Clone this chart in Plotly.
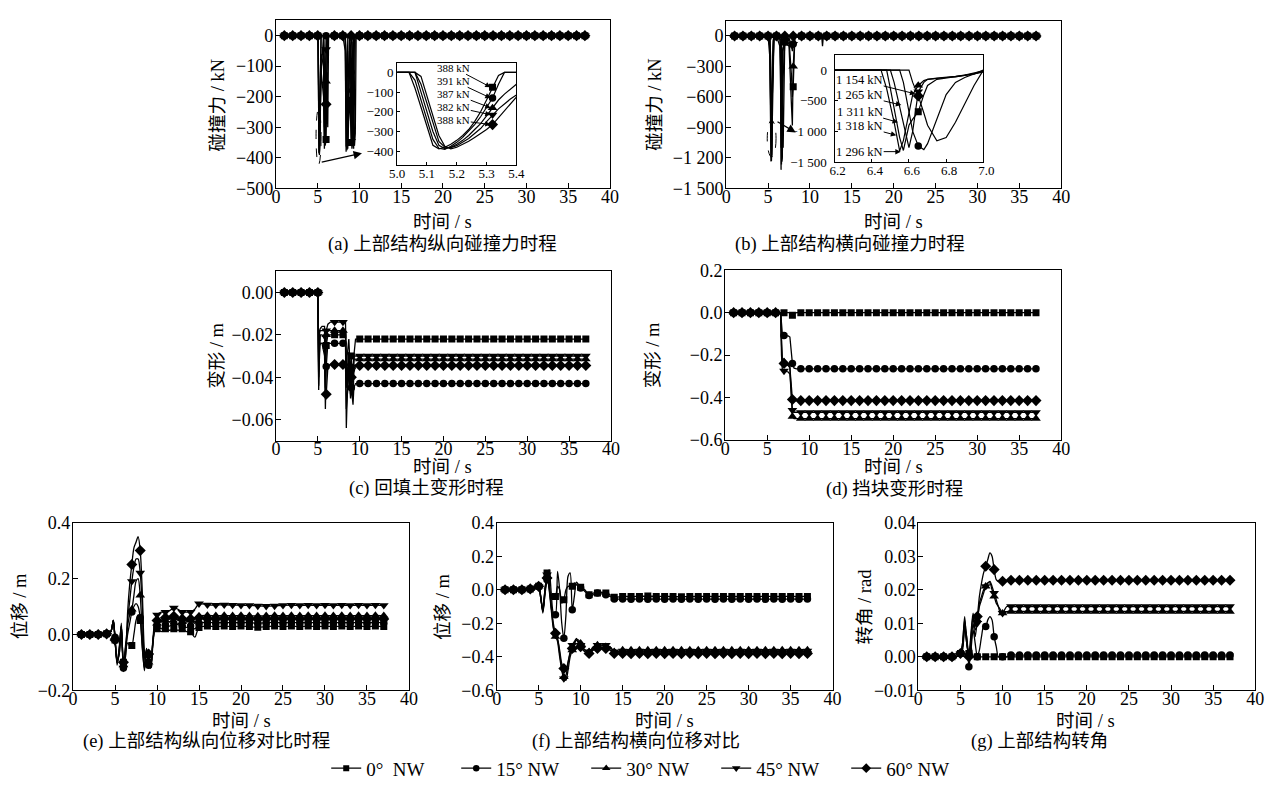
import plotly.graph_objects as go

W, H = 1284, 789
FONT = "Liberation Serif, Noto Sans CJK SC, serif"

# ---------------- data ----------------
SERIES = ["0°\u00a0\u00a0NW", "15° NW", "30° NW", "45° NW", "60° NW"]

XTICKS = [0, 5, 10, 15, 20, 25, 30, 35, 40]
XTICK_TEXT = ["0", "5", "10", "15", "20", "25", "30", "35", "40"]

T11 = [11, 12, 13, 14, 15, 16, 17, 18, 19, 20, 21, 22, 23, 24, 25, 26, 27, 28, 29, 30, 31, 32, 33, 34, 35, 36, 37]
T12 = [12, 13, 14, 15, 16, 17, 18, 19, 20, 21, 22, 23, 24, 25, 26, 27, 28, 29, 30, 31, 32, 33, 34, 35, 36, 37]
T16 = [16, 17, 18, 19, 20, 21, 22, 23, 24, 25, 26, 27, 28, 29, 30, 31, 32, 33, 34, 35, 36, 37]
ZERO27 = [0, 0, 0, 0, 0, 0, 0, 0, 0, 0, 0, 0, 0, 0, 0, 0, 0, 0, 0, 0, 0, 0, 0, 0, 0, 0, 0]
ZERO26 = [0, 0, 0, 0, 0, 0, 0, 0, 0, 0, 0, 0, 0, 0, 0, 0, 0, 0, 0, 0, 0, 0, 0, 0, 0, 0]

# (a) longitudinal collision force, kN
TA = [1, 2, 3, 4, 5, 5.05, 5.1, 5.15, 5.2, 5.25, 5.3, 5.35, 5.4, 5.7, 5.8, 5.9, 6, 6.1, 6.2, 6.3,
      7, 8, 8.3, 8.4, 8.5, 8.6, 8.8, 9, 9.1, 9.2, 9.3, 9.4, 9.5, 9.6, 10] + T11
A_0 = [0, 0, 0, 0, 0, -40, -280, -385, -345, -270, -140, 0, 0, 0, -200, -360, -340, -150, 0, 0,
       0, 0, 0, -360, -370, -200, 0, -350, -300, -100, 0, 0, 0, 0, 0] + ZERO27
A_15 = [0, 0, 0, 0, 0, -20, -240, -380, -391, -330, -180, -20, 0, 0, -300, -200, 0, 0, 0, 0,
        0, 0, -50, -380, -250, 0, 0, -120, -360, -330, -50, 0, 0, 0, 0] + ZERO27
A_30 = [0, 0, 0, 0, 0, 0, -200, -370, -387, -320, -220, -140, -60, -100, -330, -280, -150, -20, 0, 0,
        0, 0, 0, -200, -375, -320, -50, -180, -20, -250, -370, -200, 0, 0, 0] + ZERO27
A_45 = [0, 0, 0, 0, 0, 0, -160, -350, -382, -335, -250, -185, -115, -200, -370, -150, -45, 0, 0, 0,
        0, 0, 0, -100, -300, -360, -200, -345, -370, -340, -150, 0, 0, 0, 0] + ZERO27
A_60 = [0, 0, 0, 0, 0, 0, -120, -320, -380, -350, -290, -230, -125, 0, -100, -320, -225, -120, -300, 0,
        0, 0, 0, -60, -250, -370, -120, 0, 0, -150, -320, -360, -320, 0, 0] + ZERO27

# (a) inset, 5.0-5.4 s
TAI = [5.00, 5.02, 5.04, 5.06, 5.08, 5.10, 5.12, 5.14, 5.16, 5.18, 5.20, 5.22, 5.24, 5.26, 5.28,
       5.30, 5.32, 5.34, 5.36, 5.38, 5.40]
AI_0 = [0, 0, 0, -80, -180, -280, -370, -388, -380, -365, -345, -320, -290, -250, -200, -140, -75, -15, 0, 0, 0]
AI_15 = [0, 0, 0, -40, -140, -240, -340, -385, -391, -375, -355, -330, -300, -265, -225, -180, -130, -60, 0, 0, 0]
AI_30 = [0, 0, 0, 0, -100, -200, -300, -370, -387, -380, -365, -345, -320, -290, -260, -220, -180, -140, -110, -85, -60]
AI_45 = [0, 0, 0, 0, -60, -160, -260, -350, -380, -382, -372, -355, -335, -310, -285, -250, -215, -185, -160, -135, -115]
AI_60 = [0, 0, 0, 0, -20, -120, -220, -320, -375, -388, -380, -365, -350, -330, -310, -290, -265, -230, -195, -160, -125]
INSET_A_MARK_T = 5.32
INSET_A_LABELS = ["388 kN", "391 kN", "387 kN", "382 kN", "388 kN"]

# (b) transverse collision force, kN
TB = [1, 2, 3, 4, 5, 5.2, 5.3, 5.35, 5.4, 5.45, 5.5, 5.6, 5.7, 6, 6.4, 6.5, 6.55, 6.6, 6.65, 6.7, 6.8, 6.9,
      7, 7.2, 7.5, 7.8, 7.9, 8, 8.1, 8.2, 8.3, 9, 10, 11, 11.4, 11.5, 11.6] + T12
B_0 = [0, 0, 0, 0, 0, 0, -600, -1150, -1200, -900, -400, -100, 0, 0, 0, -300, -1100, -900, -680, -250, -130, -90,
       -60, -50, -40, -400, -600, -500, -200, 0, 0, 0, 0, 0, 0, 0, 0] + ZERO26
B_15 = [0, 0, 0, 0, 0, -200, -900, -1235, -1100, -700, -300, -50, 0, 0, 0, 0, 0, -700, -1237, -1200, -400, -120,
        -60, -30, -20, -100, -150, -80, -30, 0, 0, 0, 0, 0, 0, 0, 0] + ZERO26
B_30 = [0, 0, 0, 0, 0, 0, -300, -800, -1180, -1000, -500, -100, 0, 0, -100, -550, -1318, -700, -250, -150, -120, -90,
        -60, -80, -100, -700, -880, -300, -50, 0, 0, 0, 0, 0, 0, 0, 0] + ZERO26
B_45 = [0, 0, 0, 0, 0, -100, -500, -1000, -1230, -1100, -600, -200, 0, 0, 0, -100, -600, -1265, -350, -150, -120, -80,
        -50, -60, -80, -120, -100, -80, -60, 0, 0, 0, 0, 0, 0, 0, 0] + ZERO26
B_60 = [0, 0, 0, 0, 0, 0, -200, -700, -1000, -1180, -850, -300, 0, 0, 0, 0, 0, 0, -420, -900, -1100, -550,
        0, 0, 0, 0, 0, 0, 0, 0, 0, 0, 0, 0, 0, -100, 0] + ZERO26

# (b) inset, 6.2-7.0 s
TBI = [6.2, 6.45, 6.48, 6.5, 6.52, 6.55, 6.57, 6.6, 6.62, 6.65, 6.68, 6.7, 6.75, 6.8, 6.85, 6.9, 6.95, 7.0]
BI_0 = [0, 0, 0, -300, -600, -1100, -1311, -900, -800, -680, -400, -250, -150, -130, -110, -90, -60, -30]
BI_15 = [0, 0, 0, 0, 0, 0, -200, -700, -1000, -1237, -1296, -1200, -800, -400, -200, -120, -60, 0]
BI_30 = [0, 0, -300, -550, -850, -1318, -1150, -700, -400, -250, -170, -150, -130, -120, -110, -90, -60, -20]
BI_45 = [0, 0, 0, 0, -200, -600, -900, -1265, -1000, -350, -200, -150, -130, -120, -100, -80, -50, -10]
BI_60 = [0, 0, 0, 0, 0, 0, 0, 0, -200, -420, -700, -900, -1154, -1100, -850, -550, -250, 0]
INSET_B_MARK_T = 6.65
INSET_B_LABELS = ["1 154 kN", "1 265 kN", "1 311 kN", "1 318 kN", "1 296 kN"]

# (c) backfill deformation, m
TC = [1, 2, 3, 4, 5, 5.1, 5.2, 5.3, 5.5, 5.8, 5.9, 6, 6.2, 6.5, 7, 7.5, 8, 8.3, 8.4, 8.5, 8.7, 8.9, 9, 9.2, 9.3, 9.5, 10] + T11
C_0 = [0, 0, 0, 0, 0, -0.040, -0.022, -0.020, -0.020, -0.022, -0.045, -0.025, -0.020, -0.020, -0.020, -0.020, -0.020,
       -0.020, -0.045, -0.030, -0.022, -0.040, -0.030, -0.045, -0.030, -0.022, -0.022] + [
    -0.022, -0.022, -0.022, -0.022, -0.022, -0.022, -0.022, -0.022, -0.022, -0.022, -0.022, -0.022, -0.022, -0.022,
    -0.022, -0.022, -0.022, -0.022, -0.022, -0.022, -0.022, -0.022, -0.022, -0.022, -0.022, -0.022, -0.022]
C_15 = [0, 0, 0, 0, 0, -0.046, -0.025, -0.024, -0.024, -0.024, -0.055, -0.035, -0.024, -0.024, -0.024, -0.024, -0.024,
        -0.024, -0.064, -0.050, -0.035, -0.050, -0.045, -0.053, -0.045, -0.043, -0.043] + [
    -0.043, -0.043, -0.043, -0.043, -0.043, -0.043, -0.043, -0.043, -0.043, -0.043, -0.043, -0.043, -0.043, -0.043,
    -0.043, -0.043, -0.043, -0.043, -0.043, -0.043, -0.043, -0.043, -0.043, -0.043, -0.043, -0.043, -0.043]
C_30 = [0, 0, 0, 0, 0, -0.035, -0.019, -0.018, -0.018, -0.018, -0.040, -0.020, -0.018, -0.018, -0.018, -0.018, -0.018,
        -0.019, -0.040, -0.045, -0.030, -0.048, -0.035, -0.040, -0.032, -0.0315, -0.0315] + [
    -0.0315, -0.0315, -0.0315, -0.0315, -0.0315, -0.0315, -0.0315, -0.0315, -0.0315, -0.0315, -0.0315, -0.0315, -0.0315,
    -0.0315, -0.0315, -0.0315, -0.0315, -0.0315, -0.0315, -0.0315, -0.0315, -0.0315, -0.0315, -0.0315, -0.0315, -0.0315,
    -0.0315]
C_45 = [0, 0, 0, 0, 0, -0.030, -0.018, -0.017, -0.016, -0.016, -0.030, -0.018, -0.015, -0.014, -0.014, -0.014, -0.014,
        -0.014, -0.035, -0.040, -0.028, -0.045, -0.035, -0.038, -0.030, -0.030, -0.030] + [
    -0.030, -0.030, -0.030, -0.030, -0.030, -0.030, -0.030, -0.030, -0.030, -0.030, -0.030, -0.030, -0.030, -0.030,
    -0.030, -0.030, -0.030, -0.030, -0.030, -0.030, -0.030, -0.030, -0.030, -0.030, -0.030, -0.030, -0.030]
C_60 = [0, 0, 0, 0, 0, -0.044, -0.025, -0.024, -0.024, -0.030, -0.050, -0.048, -0.035, -0.034, -0.034, -0.034, -0.034,
        -0.034, -0.055, -0.050, -0.038, -0.046, -0.040, -0.050, -0.038, -0.0345, -0.0345] + [
    -0.0345, -0.0345, -0.0345, -0.0345, -0.0345, -0.0345, -0.0345, -0.0345, -0.0345, -0.0345, -0.0345, -0.0345, -0.0345,
    -0.0345, -0.0345, -0.0345, -0.0345, -0.0345, -0.0345, -0.0345, -0.0345, -0.0345, -0.0345, -0.0345, -0.0345, -0.0345,
    -0.0345]

# (d) block deformation, m
TD = [1, 2, 3, 4, 5, 5.5, 6, 6.6, 6.7, 6.8, 7, 7.5, 7.7, 7.9, 8, 8.2, 8.5, 9, 10] + T11
D_0 = [0, 0, 0, 0, 0, 0, 0, 0, 0, 0, 0, 0, 0, -0.010, -0.012, -0.005, 0, 0, 0] + ZERO27
D_15 = [0, 0, 0, 0, 0, 0, 0, 0, -0.05, -0.10, -0.108, -0.11, -0.115, -0.20, -0.24, -0.262, -0.265, -0.265, -0.265] + [
    -0.265, -0.265, -0.265, -0.265, -0.265, -0.265, -0.265, -0.265, -0.265, -0.265, -0.265, -0.265, -0.265, -0.265,
    -0.265, -0.265, -0.265, -0.265, -0.265, -0.265, -0.265, -0.265, -0.265, -0.265, -0.265, -0.265, -0.265]
D_30 = [0, 0, 0, 0, 0, 0, 0, 0, -0.15, -0.225, -0.232, -0.24, -0.26, -0.45, -0.49, -0.50, -0.50, -0.50, -0.50] + [
    -0.50, -0.50, -0.50, -0.50, -0.50, -0.50, -0.50, -0.50, -0.50, -0.50, -0.50, -0.50, -0.50, -0.50,
    -0.50, -0.50, -0.50, -0.50, -0.50, -0.50, -0.50, -0.50, -0.50, -0.50, -0.50, -0.50, -0.50]
D_45 = [0, 0, 0, 0, 0, 0, 0, 0, -0.20, -0.27, -0.275, -0.28, -0.29, -0.42, -0.46, -0.47, -0.47, -0.47, -0.47] + [
    -0.47, -0.47, -0.47, -0.47, -0.47, -0.47, -0.47, -0.47, -0.47, -0.47, -0.47, -0.47, -0.47, -0.47,
    -0.47, -0.47, -0.47, -0.47, -0.47, -0.47, -0.47, -0.47, -0.47, -0.47, -0.47, -0.47, -0.47]
D_60 = [0, 0, 0, 0, 0, -0.01, 0, 0, -0.18, -0.235, -0.24, -0.25, -0.26, -0.38, -0.41, -0.415, -0.415, -0.415, -0.415] + [
    -0.415, -0.415, -0.415, -0.415, -0.415, -0.415, -0.415, -0.415, -0.415, -0.415, -0.415, -0.415, -0.415, -0.415,
    -0.415, -0.415, -0.415, -0.415, -0.415, -0.415, -0.415, -0.415, -0.415, -0.415, -0.415, -0.415, -0.415]

# (e) longitudinal displacement, m
TE = [1, 2, 3, 4, 4.5, 4.8, 5, 5.25, 5.5, 5.75, 6, 6.25, 6.5, 6.75, 7, 7.25, 7.5, 7.75, 8, 8.25, 8.5, 8.75, 9,
      9.25, 9.5, 9.75, 10, 10.5, 11, 11.5, 12, 12.5, 13, 13.5, 14, 14.5, 15] + T16
E_0 = [0, 0, 0, 0.002, 0.01, 0.05, -0.02, -0.10, -0.05, 0.03, -0.10, -0.06, -0.03, -0.04, -0.04, 0.0, 0.05, 0.07,
       0.05, -0.05, -0.12, -0.05, -0.10, -0.11, -0.03, 0.02, 0.02, 0.01, 0.02, 0.015, 0.02, 0.015, 0.02, 0.01, 0.01,
       -0.01, 0.025] + [0.03, 0.028, 0.03, 0.028, 0.03, 0.028, 0.026, 0.028, 0.03, 0.028, 0.03, 0.028, 0.03, 0.028,
                        0.03, 0.028, 0.03, 0.028, 0.03, 0.028, 0.03, 0.028]
E_15 = [0, 0, 0, 0.002, 0.01, 0.045, -0.01, -0.11, -0.06, 0.04, -0.12, -0.05, 0.0, 0.04, 0.08, 0.10, 0.11, 0.10,
        0.06, -0.04, -0.13, -0.06, -0.11, -0.12, -0.04, 0.02, 0.03, 0.02, 0.035, 0.03, 0.04, 0.035, 0.03, 0.025, 0.03,
        0.02, 0.04] + [0.043, 0.042, 0.043, 0.042, 0.043, 0.042, 0.04, 0.042, 0.043, 0.042, 0.043, 0.042, 0.043, 0.042,
                       0.043, 0.042, 0.043, 0.042, 0.043, 0.042, 0.043, 0.042]
E_30 = [0, 0, 0, 0.002, 0.01, 0.05, -0.01, -0.10, -0.05, 0.03, -0.11, -0.04, 0.03, 0.07, 0.09, 0.14, 0.19, 0.20,
        0.14, 0.0, -0.12, -0.05, -0.10, -0.11, -0.03, 0.03, 0.04, 0.045, 0.05, 0.045, 0.06, 0.05, 0.045, 0.045, 0.05,
        0.04, 0.065] + [0.068, 0.067, 0.068, 0.067, 0.068, 0.067, 0.066, 0.067, 0.068, 0.067, 0.068, 0.067, 0.068,
                        0.067, 0.068, 0.067, 0.068, 0.067, 0.068, 0.067, 0.068, 0.067]
E_45 = [0, 0, 0, 0.002, 0.01, 0.05, -0.02, -0.10, -0.07, 0.02, -0.12, -0.07, 0.05, 0.12, 0.19, 0.24, 0.27, 0.27,
        0.22, 0.10, -0.08, -0.10, -0.08, -0.12, -0.02, 0.05, 0.07, 0.08, 0.08, 0.085, 0.095, 0.09, 0.08, 0.08, 0.08,
        0.09, 0.11] + [0.106, 0.105, 0.106, 0.105, 0.104, 0.104, 0.102, 0.101, 0.102, 0.104, 0.105, 0.104, 0.105,
                       0.104, 0.105, 0.104, 0.105, 0.104, 0.105, 0.104, 0.105, 0.104]
E_60 = [0, 0, 0, 0.002, 0.01, 0.05, -0.02, -0.09, -0.07, 0.03, -0.10, -0.08, 0.08, 0.18, 0.25, 0.31, 0.33, 0.35,
        0.30, 0.15, -0.06, -0.11, -0.07, -0.12, -0.03, 0.03, 0.05, 0.05, 0.06, 0.055, 0.065, 0.06, 0.055, 0.05, 0.055,
        0.045, 0.06] + [0.056, 0.055, 0.056, 0.055, 0.056, 0.055, 0.054, 0.055, 0.056, 0.055, 0.056, 0.055, 0.056,
                        0.055, 0.056, 0.055, 0.056, 0.055, 0.056, 0.055, 0.056, 0.055]

# (f) transverse displacement, m
TF = [1, 2, 3, 4, 4.5, 5, 5.25, 5.5, 5.75, 6, 6.25, 6.5, 6.75, 7, 7.25, 7.5, 7.75, 8, 8.25, 8.5, 8.75, 9, 9.25,
      9.5, 9.75, 10, 10.5, 11, 11.5, 12, 12.5, 13, 13.5, 14, 15] + T16
F_0 = [0, 0, 0, 0.005, 0.01, 0.02, -0.05, -0.13, -0.02, 0.10, 0.05, -0.05, -0.04, -0.04, 0.02, 0.0, -0.08, -0.06,
       0.0, 0.02, 0.02, 0.02, 0.04, 0.03, 0.02, 0.015, -0.01, -0.03, -0.02, -0.02, -0.015, -0.02, -0.03, -0.045,
       -0.04] + [-0.04, -0.04, -0.038, -0.04, -0.04, -0.04, -0.042, -0.04, -0.04, -0.04, -0.04, -0.04, -0.04, -0.04,
                 -0.04, -0.04, -0.04, -0.04, -0.04, -0.04, -0.04, -0.04]
F_15 = [0, 0, 0, 0.005, 0.01, 0.02, -0.04, -0.14, -0.03, 0.06, 0.12, -0.02, -0.14, -0.15, 0.11, 0.0, -0.20, -0.29,
        -0.15, 0.08, 0.10, -0.12, -0.04, 0.045, 0.03, 0.01, 0.0, -0.035, -0.03, -0.02, -0.025, -0.03, -0.04, -0.055,
        -0.055] + [-0.057, -0.055, -0.057, -0.055, -0.057, -0.055, -0.057, -0.055, -0.057, -0.055, -0.057, -0.055,
                   -0.057, -0.055, -0.057, -0.055, -0.057, -0.055, -0.057, -0.055, -0.057, -0.055]
F_30 = [0, 0, 0, 0.005, 0.01, 0.02, -0.04, -0.12, 0.0, 0.08, 0.02, -0.10, -0.22, -0.28, -0.30, -0.38, -0.47, -0.52,
        -0.54, -0.48, -0.40, -0.36, -0.32, -0.30, -0.30, -0.32, -0.36, -0.37, -0.35, -0.33, -0.33, -0.34, -0.34,
        -0.37, -0.36] + [-0.36, -0.36, -0.36, -0.36, -0.36, -0.36, -0.36, -0.36, -0.36, -0.36, -0.36, -0.36, -0.36,
                         -0.36, -0.36, -0.36, -0.36, -0.36, -0.36, -0.36, -0.36, -0.36]
F_45 = [0, 0, 0, 0.005, 0.01, 0.02, -0.05, -0.13, 0.0, 0.09, 0.0, -0.12, -0.23, -0.27, -0.31, -0.40, -0.48, -0.53,
        -0.51, -0.44, -0.37, -0.33, -0.31, -0.29, -0.31, -0.33, -0.36, -0.37, -0.34, -0.33, -0.33, -0.33, -0.34,
        -0.37, -0.365] + [-0.367, -0.365, -0.367, -0.365, -0.367, -0.365, -0.367, -0.365, -0.367, -0.365, -0.367,
                          -0.365, -0.367, -0.365, -0.367, -0.365, -0.367, -0.365, -0.367, -0.365, -0.367, -0.365]
F_60 = [0, 0, 0, 0.005, 0.01, 0.02, -0.05, -0.12, -0.01, 0.07, 0.01, -0.10, -0.20, -0.26, -0.29, -0.36, -0.44,
        -0.47, -0.48, -0.43, -0.38, -0.35, -0.32, -0.30, -0.32, -0.34, -0.37, -0.38, -0.36, -0.35, -0.345, -0.35,
        -0.36, -0.38, -0.38] + [-0.382, -0.38, -0.382, -0.38, -0.382, -0.38, -0.382, -0.38, -0.382, -0.38, -0.382,
                                -0.38, -0.382, -0.38, -0.382, -0.38, -0.382, -0.38, -0.382, -0.38, -0.382, -0.38]

# (g) superstructure rotation, rad
TG = [1, 2, 3, 4, 4.5, 5, 5.25, 5.5, 5.75, 6, 6.25, 6.5, 6.75, 7, 7.25, 7.5, 7.75, 8, 8.25, 8.5, 8.75, 9, 9.25,
      9.5, 9.75, 10, 10.5] + T11
G_0 = [0, 0, 0, 0, 0, 0.001, 0.004, 0.012, 0.004, 0.001, 0.003, 0.0, 0.0, 0.0, 0.0, 0.0, 0.0, 0.0, 0.0, 0.0, 0.0,
       0.0, 0.0, 0.0, 0.0, 0.0, 0.0] + ZERO27
G_15 = [0, 0, 0, 0, 0, 0.001, 0.002, 0.008, 0.006, -0.003, 0.002, 0.008, 0.004, 0.0, 0.002, 0.006, 0.009, 0.009,
        0.011, 0.012, 0.011, 0.006, 0.003, 0.0, 0.0, 0.0, 0.0] + [
    0.0005, 0.0005, 0.0005, 0.0005, 0.0005, 0.0005, 0.0005, 0.0005, 0.0005, 0.0005, 0.0005, 0.0005, 0.0005, 0.0005,
    0.0005, 0.0005, 0.0005, 0.0005, 0.0005, 0.0005, 0.0005, 0.0005, 0.0005, 0.0005, 0.0005, 0.0005, 0.0005]
G_30 = [0, 0, 0, 0, 0, 0.001, 0.004, 0.011, 0.005, 0.001, 0.004, 0.010, 0.006, 0.011, 0.015, 0.017, 0.019, 0.021,
        0.022, 0.022, 0.020, 0.018, 0.016, 0.015, 0.014, 0.013, 0.0135] + [
    0.0135, 0.0135, 0.0135, 0.0135, 0.0135, 0.0135, 0.0135, 0.0135, 0.0135, 0.0135, 0.0135, 0.0135, 0.0135, 0.0135,
    0.0135, 0.0135, 0.0135, 0.0135, 0.0135, 0.0135, 0.0135, 0.0135, 0.0135, 0.0135, 0.0135, 0.0135, 0.0135]
G_45 = [0, 0, 0, 0, 0, 0.001, 0.003, 0.010, 0.004, 0.0, 0.006, 0.012, 0.008, 0.010, 0.016, 0.018, 0.020, 0.021,
        0.022, 0.0225, 0.021, 0.019, 0.017, 0.015, 0.013, 0.013, 0.015] + [
    0.015, 0.015, 0.015, 0.015, 0.015, 0.015, 0.015, 0.015, 0.015, 0.015, 0.015, 0.015, 0.015, 0.015,
    0.015, 0.015, 0.015, 0.015, 0.015, 0.015, 0.015, 0.015, 0.015, 0.015, 0.015, 0.015, 0.015]
G_60 = [0, 0, 0, 0, 0, 0.001, 0.003, 0.009, 0.004, 0.0, 0.007, 0.013, 0.009, 0.012, 0.018, 0.022, 0.025, 0.027,
        0.029, 0.031, 0.030, 0.026, 0.023, 0.0225, 0.0225, 0.0225, 0.0225] + [
    0.0228, 0.0228, 0.0228, 0.0228, 0.0228, 0.0228, 0.0228, 0.0228, 0.0228, 0.0228, 0.0228, 0.0228, 0.0228, 0.0228,
    0.0228, 0.0228, 0.0228, 0.0228, 0.0228, 0.0228, 0.0228, 0.0228, 0.0228, 0.0228, 0.0228, 0.0228, 0.0228]

# ---------------- style ----------------
SYMBOLS = ["square", "circle", "triangle-up", "triangle-down", "diamond"]
MSIZE = [7, 7.5, 8.5, 8.5, 8.5]
TICK_FS = 18
TITLE_FS = 18.5
INSET_FS = 13

fig = go.Figure()


def xdom(p0, p1):
    return [p0 / W, p1 / W]


def ydom(top, bottom):
    return [1 - bottom / H, 1 - top / H]


def add_panel(t, ys, n, shape="linear", mark=None, lw=1.3):
    for k, y in enumerate(ys):
        assert len(t) == len(y), (n, k, len(t), len(y))
        if mark is None:
            sizes = [MSIZE[k] if abs(v - round(v)) < 1e-9 else 0 for v in t]
        else:
            sizes = [MSIZE[k] if abs(v - mark) < 1e-9 else 0 for v in t]
        sfx = "" if n == 1 else str(n)
        fig.add_trace(go.Scatter(
            x=t, y=y, xaxis="x" + sfx, yaxis="y" + sfx, mode="lines+markers",
            line=dict(color="black", width=lw, shape=shape, smoothing=0.8),
            marker=dict(symbol=SYMBOLS[k], size=sizes, color="black", opacity=1, line=dict(width=0)),
            showlegend=False, hoverinfo="skip"))


add_panel(TA, [A_0, A_15, A_30, A_45, A_60], 1)
add_panel(TB, [B_0, B_15, B_30, B_45, B_60], 2)
add_panel(TC, [C_0, C_15, C_30, C_45, C_60], 3)
add_panel(TD, [D_0, D_15, D_30, D_45, D_60], 4)
add_panel(TE, [E_0, E_15, E_30, E_45, E_60], 5, shape="spline")
add_panel(TF, [F_0, F_15, F_30, F_45, F_60], 6, shape="spline")
add_panel(TG, [G_0, G_15, G_30, G_45, G_60], 7, shape="spline")
add_panel(TAI, [AI_0, AI_15, AI_30, AI_45, AI_60], 8, mark=INSET_A_MARK_T, lw=1.2)
add_panel(TBI, [BI_0, BI_15, BI_30, BI_45, BI_60], 9, mark=INSET_B_MARK_T, lw=1.2)

# legend entries
for k, name in enumerate(SERIES):
    fig.add_trace(go.Scatter(
        x=[None], y=[None], mode="lines+markers", name=name,
        line=dict(color="black", width=1.3),
        marker=dict(symbol=SYMBOLS[k], size=MSIZE[k] - 1, color="black", opacity=1),
        showlegend=True))


def axis(domain, rng, tickvals, ticktext, anchor, fs=TICK_FS, ticklen=5, standoff=0, shift=0):
    return dict(domain=domain, range=rng, tickvals=tickvals, ticktext=ticktext, anchor=anchor,
                showline=True, linecolor="black", linewidth=1.2, mirror=True,
                ticks="inside", ticklen=ticklen, tickwidth=1.1, tickcolor="black",
                showgrid=False, zeroline=False, fixedrange=True, ticklabelstandoff=standoff,
                ticklabelshift=shift,
                tickfont=dict(family=FONT, size=fs, color="black"))


M = "\u2212"
panels = {
    1: (xdom(272, 611), ydom(10, 183), [-500, 52], [0, -100, -200, -300, -400, -500],
        ["0", M + "100", M + "200", M + "300", M + "400", M + "500"]),
    2: (xdom(729, 1069), ydom(11, 183), [-1500, 150], [0, -300, -600, -900, -1200, -1500],
        ["0", M + "300", M + "600", M + "900", M + "1 200", M + "1 500"]),
    3: (xdom(272, 612), ydom(268, 442), [-0.07, 0.01], [0, -0.02, -0.04, -0.06],
        ["0.00", M + "0.02", M + "0.04", M + "0.06"]),
    4: (xdom(728, 1069), ydom(267, 441), [-0.6, 0.2], [0.2, 0, -0.2, -0.4, -0.6],
        ["0.2", "0.0", M + "0.2", M + "0.4", M + "0.6"]),
    5: (xdom(66, 407), ydom(526, 698), [-0.2, 0.4], [0.4, 0.2, 0, -0.2],
        ["0.4", "0.2", "0.0", M + "0.2"]),
    6: (xdom(496, 837), ydom(526, 698), [-0.6, 0.4], [0.4, 0.2, 0, -0.2, -0.4, -0.6],
        ["0.4", "0.2", "0.0", M + "0.2", M + "0.4", M + "0.6"]),
    7: (xdom(924, 1266), ydom(526, 698), [-0.01, 0.04], [0.04, 0.03, 0.02, 0.01, 0, -0.01],
        ["0.04", "0.03", "0.02", "0.01", "0.00", M + "0.01"]),
}
lay = {}
for n, (xd, yd, yr, ytv, ytt) in panels.items():
    sfx = "" if n == 1 else str(n)
    lay["xaxis" + sfx] = axis(xd, [0, 40], XTICKS, XTICK_TEXT, "y" + sfx, standoff=-8)
    lay["yaxis" + sfx] = axis(yd, yr, ytv, ytt, "x" + sfx, standoff=-2)

lay["xaxis8"] = axis(xdom(395, 516), [5.0, 5.4], [5.0, 5.1, 5.2, 5.3, 5.4],
                     ["5.0", "5.1", "5.2", "5.3", "5.4"], "y8", fs=INSET_FS, ticklen=3, standoff=-4)
lay["yaxis8"] = axis(ydom(54, 159), [-470, 50], [0, -100, -200, -300, -400],
                     ["0", M + "100", M + "200", M + "300", M + "400"], "x8", fs=INSET_FS, ticklen=3)
lay["xaxis9"] = axis(xdom(839, 990), [6.2, 7.0], [6.2, 6.4, 6.6, 6.8, 7.0],
                     ["6.2", "6.4", "6.6", "6.8", "7.0"], "y9", fs=INSET_FS, ticklen=3, standoff=-4, shift=3)
lay["yaxis9"] = axis(ydom(46, 156), [-1500, 250], [0, -500, -1000, -1500],
                     ["0", M + "500", M + "1 000", M + "1 500"], "x9", fs=INSET_FS, ticklen=3, standoff=4)

annotations = []


def txt(x, y, s, size=TITLE_FS, angle=0):
    annotations.append(dict(x=x / W, y=1 - y / H, xref="paper", yref="paper", text=s, showarrow=False,
                            textangle=angle, xanchor="center", yanchor="middle", borderpad=0,
                            font=dict(family=FONT, size=size, color="black")))


# y titles
txt(213, 97, "碰撞力 / kN", angle=-90)
txt(656, 97, "碰撞力 / kN", angle=-90)
txt(212, 355, "变形 / m", angle=-90)
txt(655, 354, "变形 / m", angle=-90)
txt(13, 612, "位移 / m", angle=-90)
txt(442, 612, "位移 / m", angle=-90)
txt(870, 612, "转角 / rad", angle=-90)
# x titles
for cx, cy in [(441, 218), (899, 218), (441, 469), (899, 469), (237, 730), (666, 730), (1094, 730)]:
    txt(cx, cy, "时间 / s")
# captions
txt(441, 241, "(a) 上部结构纵向碰撞力时程")
txt(855, 241, "(b) 上部结构横向碰撞力时程")
txt(425, 491, "(c) 回填土变形时程")
txt(900, 492, "(d) 挡块变形时程")
txt(201, 751, "(e) 上部结构纵向位移对比时程")
txt(637, 751, "(f) 上部结构横向位移对比")
txt(1047, 751, "(g) 上部结构转角")

# inset (a) labels with arrows to the marked points
ia = TAI.index(INSET_A_MARK_T)
label_y_a = [24, -42, -108, -174, -240]
for k, (lab, ly) in enumerate(zip(INSET_A_LABELS, label_y_a)):
    yk = [AI_0, AI_15, AI_30, AI_45, AI_60][k][ia]
    annotations.append(dict(x=INSET_A_MARK_T - 0.006, y=yk, xref="x8", yref="y8", ax=5.19, ay=ly,
                            axref="x8", ayref="y8", text=lab, showarrow=True, arrowhead=2, arrowsize=1.1,
                            arrowwidth=1, arrowcolor="black", borderpad=0,
                            font=dict(family=FONT, size=11, color="black")))
# inset (b) labels with arrows
label_y_b = [-160, -410, -676, -904, -1330]
heads_b = [(6.635, -388), (6.559, -569), (6.541, -851), (6.532, -1064), (6.556, -1330)]
for lab, ly, (hx, hy) in zip(INSET_B_LABELS, label_y_b, heads_b):
    annotations.append(dict(x=hx, y=hy, xref="x9", yref="y9", ax=6.335, ay=ly,
                            axref="x9", ayref="y9", text=lab, showarrow=True, arrowhead=2, arrowsize=1.1,
                            arrowwidth=1, arrowcolor="black", borderpad=0,
                            font=dict(family=FONT, size=12.5, color="black")))
# pointer arrows from the marked region to the insets
annotations.append(dict(x=10.3, y=-385, xref="x", yref="y", ax=5.3, ay=-415, axref="x", ayref="y",
                        text="", showarrow=True, arrowhead=2, arrowsize=1.4, arrowwidth=1.2,
                        arrowcolor="black"))
annotations.append(dict(x=8.3, y=-950, xref="x2", yref="y2", ax=5.95, ay=-835, axref="x2", ayref="y2",
                        text="", showarrow=True, arrowhead=2, arrowsize=1.4, arrowwidth=1.2,
                        arrowcolor="black"))

shapes = [
    dict(type="circle", xref="x", yref="y", x0=4.8, x1=5.4, y0=-422, y1=-240,
         line=dict(color="black", width=1, dash="dash")),
    dict(type="circle", xref="x2", yref="y2", x0=4.9, x1=5.95, y0=-1190, y1=-830,
         line=dict(color="black", width=1, dash="dash")),
]

fig.update_layout(
    **lay,
    width=W, height=H, margin=dict(l=0, r=0, t=0, b=0),
    paper_bgcolor="white", plot_bgcolor="white",
    font=dict(family=FONT, size=TICK_FS, color="black"),
    annotations=annotations, shapes=shapes,
    legend=dict(orientation="h", x=323 / W, xanchor="left", y=1 - 778 / H, yanchor="middle",
                font=dict(family=FONT, size=19, color="black"), entrywidth=85,
                bgcolor="rgba(0,0,0,0)", itemwidth=30),
)

fig.write_html("out.html", post_script="document.body.style.margin='0';")
